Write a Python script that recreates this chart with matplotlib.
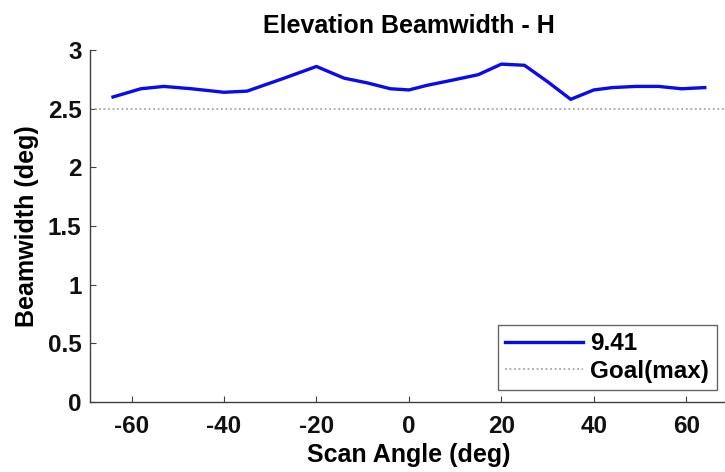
import matplotlib

matplotlib.use("Agg")
import matplotlib.pyplot as plt

plt.rcParams["font.family"] = ["Liberation Sans", "DejaVu Sans"]
plt.rcParams["font.weight"] = "bold"
plt.rcParams["axes.unicode_minus"] = False

scan_angle = [-64, -58, -53, -47, -40, -35, -27, -20, -14, -9, -4, 0, 4,
              9, 15, 20, 25, 30, 35, 40, 44, 49, 54, 59, 64]
beamwidth = [2.60, 2.67, 2.69, 2.67, 2.64, 2.65, 2.76, 2.86, 2.76, 2.72,
             2.67, 2.66, 2.70, 2.74, 2.79, 2.88, 2.87, 2.73, 2.58, 2.66,
             2.68, 2.69, 2.69, 2.67, 2.68]
series_label = "9.41"
goal_value = 2.5
goal_label = "Goal(max)"
x_ticks = [-60, -40, -20, 0, 20, 40, 60]
y_ticks = [0, 0.5, 1, 1.5, 2, 2.5, 3]
y_tick_labels = ["0", "0.5", "1", "1.5", "2", "2.5", "3"]

fig = plt.figure(figsize=(7.25, 4.72), dpi=100)
ax = fig.add_axes([0.124, 0.148, 0.88, 0.746])

ax.plot(scan_angle, beamwidth, color="#0a0af0", linewidth=2.4, label=series_label)
ax.axhline(goal_value, color="#a8a8a0", linestyle=(0, (1, 1.5)), linewidth=1.3,
           label=goal_label)

ax.set_xlim(-69, 69)
ax.set_ylim(0, 3)
ax.set_xticks(x_ticks)
ax.set_yticks(y_ticks)
ax.set_yticklabels(y_tick_labels)
ax.tick_params(direction="in", length=4, labelsize=17.5, colors="#111111")
ax.tick_params(axis="x", pad=9)
ax.tick_params(axis="y", pad=6)
ax.tick_params(axis="both", color="#404040")

for side in ("top", "right"):
    ax.spines[side].set_visible(False)
for side in ("left", "bottom"):
    ax.spines[side].set_color("#404040")
    ax.spines[side].set_linewidth(1.0)

ax.set_title("Elevation Beamwidth - H", fontsize=18, fontweight="bold", pad=12)
ax.set_xlabel("Scan Angle (deg)", fontsize=18, fontweight="bold", labelpad=4)
ax.set_ylabel("Beamwidth (deg)", fontsize=18, fontweight="bold", labelpad=6)

leg = ax.legend(loc="lower right", bbox_to_anchor=(0.99, 0.02), fontsize=17.5,
                frameon=True, fancybox=False, edgecolor="#404040",
                handlelength=3.2, handletextpad=0.3, borderpad=0.3,
                labelspacing=0.2, borderaxespad=0.2)
leg.get_frame().set_linewidth(1.0)

fig.savefig("out.png", dpi=100)
plt.close(fig)
